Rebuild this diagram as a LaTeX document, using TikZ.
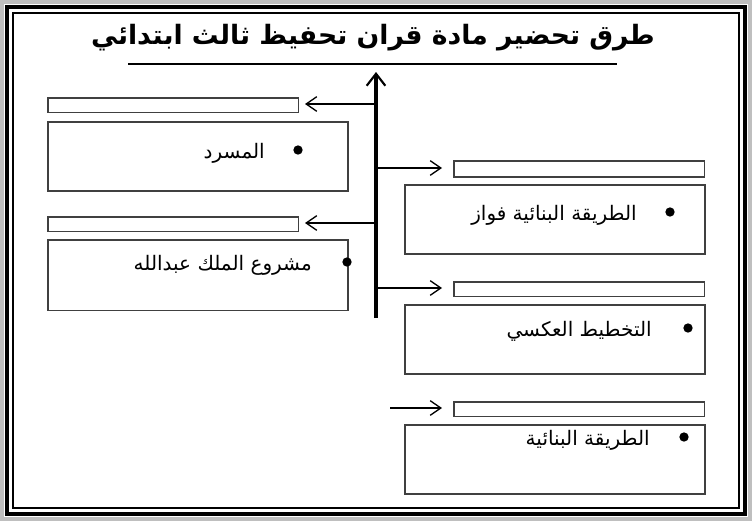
\documentclass[tikz,border=0pt]{standalone}
\usepackage{fontspec}
\newfontfamily\arabicfont[Script=Arabic]{DejaVu Sans}
\TeXXeTstate=1
\usetikzlibrary{arrows.meta}
\begin{document}
\begin{tikzpicture}[x=0.75pt,y=-0.75pt,
  box/.style={draw=black!75,line width=1.2pt},
  arr/.style={-{Straight Barb[length=8pt,width=11pt,line width=1pt]},line width=1pt},
  lbl/.style={font=\arabicfont\fontsize{15}{17}\selectfont,anchor=east,inner sep=0},
  dot/.style={circle,fill=black,inner sep=0,minimum size=7pt}]
\useasboundingbox (0,0) rectangle (752,521);
\fill[black!25] (0,0) rectangle (752,521);
\fill[white] (4,4) rectangle (748,517);
\draw[line width=3.5pt] (7,7) rectangle (745,514);
\draw[line width=1pt] (13,13) rectangle (739,508);
\node[font=\arabicfont\bfseries\fontsize{20}{22}\selectfont] (title) at (373,38) {\beginR طرق تحضير مادة قران تحفيظ ثالث ابتدائي\endR};
\draw[line width=1.6pt] (128,64) -- (617,64);
\coordinate (top) at (376,72);
\coordinate (bot) at (376,318);
\draw[-{Straight Barb[length=9pt,width=14pt,line width=1.6pt]},line width=2.5pt] (bot) -- (top);
% left
\node[box,minimum width=188pt,minimum height=11pt,anchor=north west,inner sep=0] (ls1) at (47,97) {};
\node[box,minimum width=225pt,minimum height=52pt,anchor=north west,inner sep=0] (lb1) at (47,121) {};
\node[box,minimum width=188pt,minimum height=11pt,anchor=north west,inner sep=0] (ls2) at (47,216) {};
\node[box,minimum width=225pt,minimum height=53pt,anchor=north west,inner sep=0] (lb2) at (47,239) {};
\coordinate (j1) at (376,104); \coordinate (j2) at (376,223);
\coordinate (a1) at (305,104); \coordinate (a2) at (305,223);
\draw[arr] (j1) -- (a1);
\draw[arr] (j2) -- (a2);
% right
\node[box,minimum width=188pt,minimum height=12pt,anchor=north west,inner sep=0] (rs1) at (453,160) {};
\node[box,minimum width=225pt,minimum height=52pt,anchor=north west,inner sep=0] (rb1) at (404,184) {};
\node[box,minimum width=188pt,minimum height=11pt,anchor=north west,inner sep=0] (rs2) at (453,281) {};
\node[box,minimum width=225pt,minimum height=52pt,anchor=north west,inner sep=0] (rb2) at (404,304) {};
\node[box,minimum width=188pt,minimum height=11pt,anchor=north west,inner sep=0] (rs3) at (453,401) {};
\node[box,minimum width=225pt,minimum height=52pt,anchor=north west,inner sep=0] (rb3) at (404,424) {};
\coordinate (j3) at (376,168); \coordinate (j4) at (376,288); \coordinate (f5) at (390,408);
\coordinate (a3) at (442,168); \coordinate (a4) at (442,288); \coordinate (a5) at (442,408);
\draw[arr] (j3) -- (a3);
\draw[arr] (j4) -- (a4);
\draw[arr] (f5) -- (a5);
% texts
\node[dot] (d1) at (298,150) {}; \node[lbl] (t1) at (265,153) {\beginR المسرد\endR};
\node[dot] (d2) at (347,262) {}; \node[lbl] (t2) at (312,265) {\beginR مشروع الملك عبدالله\endR};
\node[dot] (d3) at (670,212) {}; \node[lbl] (t3) at (637,215) {\beginR الطريقة البنائية فواز\endR};
\node[dot] (d4) at (688,328) {}; \node[lbl] (t4) at (652,331) {\beginR التخطيط العكسي\endR};
\node[dot] (d5) at (684,437) {}; \node[lbl] (t5) at (650,440) {\beginR الطريقة البنائية\endR};
\end{tikzpicture}
\end{document}
